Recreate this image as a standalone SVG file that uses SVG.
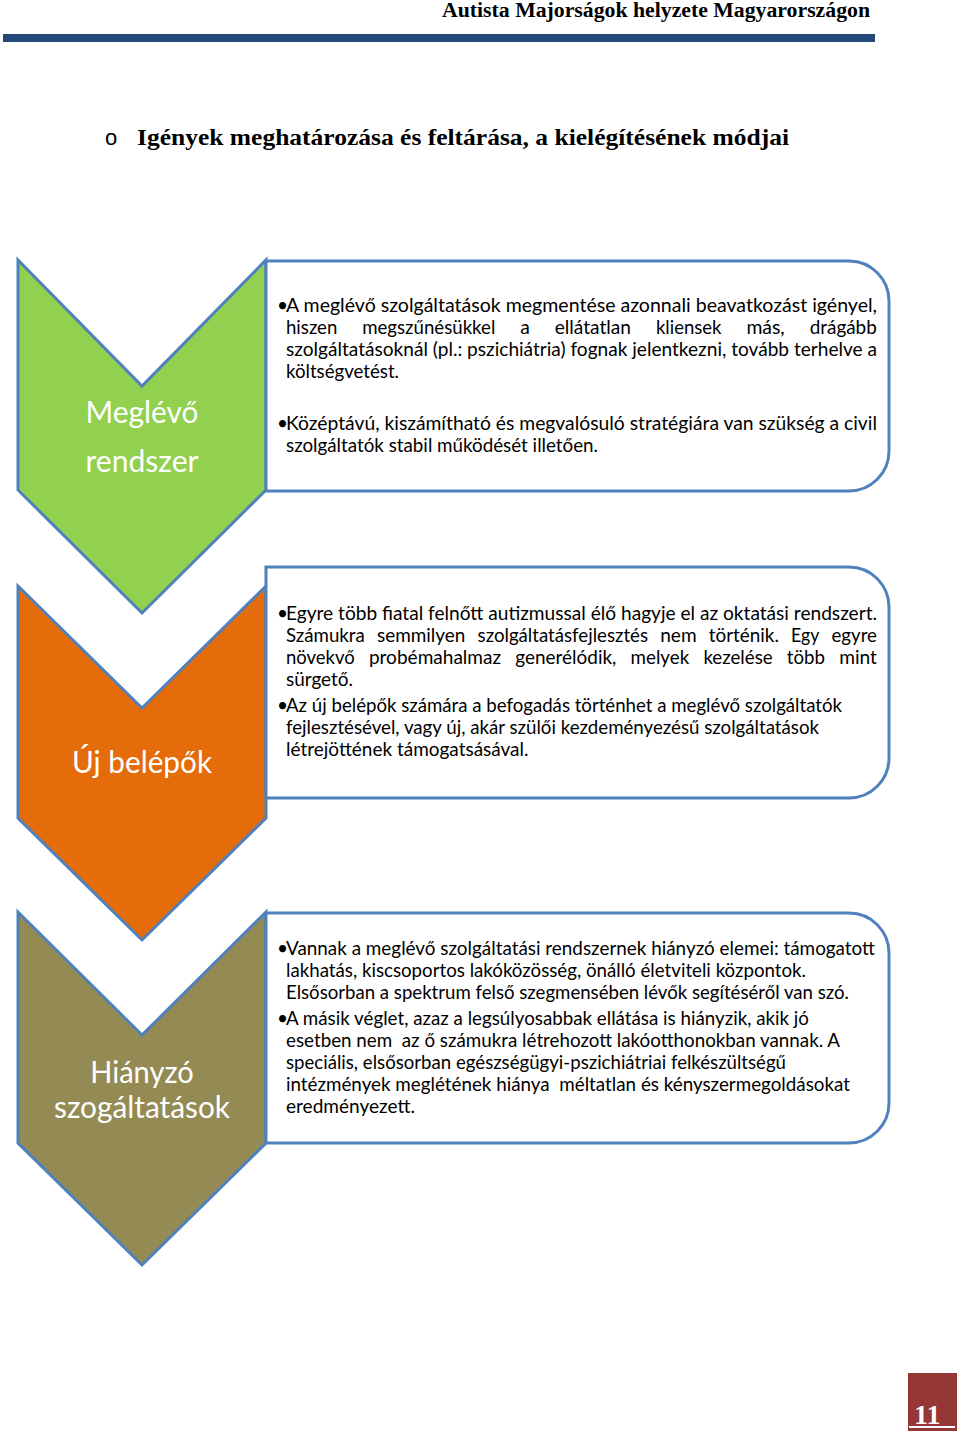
<svg xmlns="http://www.w3.org/2000/svg" width="960" height="1436" viewBox="0 0 960 1436">
<style>
.hdr{font-family:"Liberation Serif",serif;font-weight:bold;fill:#000}
.t{font-family:Lato,"Liberation Sans",sans-serif;font-size:19px;fill:#000;white-space:pre}
.lbl{font-family:Lato,"Liberation Sans",sans-serif;font-size:30px;fill:#fff;text-anchor:middle}
.chev{stroke:#4f81bd;stroke-width:3;stroke-linejoin:miter}
.box{fill:#fff;stroke:#4f81bd;stroke-width:3}
</style>
<rect width="960" height="1436" fill="#fff"/>
<g id="header">
<text class="hdr" x="442" y="17" font-size="20" textLength="428" lengthAdjust="spacingAndGlyphs">Autista Majorságok helyzete Magyarországon</text>
<rect x="3" y="34" width="872" height="8" fill="#23487a"/>
</g>
<g id="title">
<text x="105" y="145" font-family="Liberation Sans, sans-serif" font-size="22" fill="#000">o</text>
<text class="hdr" x="137" y="145" font-size="24" textLength="652" lengthAdjust="spacingAndGlyphs">Igények meghatározása és feltárása, a kielégítésének módjai</text>
</g>
<g id="connectors"></g>
<g id="node-meglevo">
<polygon class="chev" fill="#92d050" points="18,260 142,386 266,260 266,490 142,613 18,490"/>
<text class="lbl" x="142" y="423" textLength="113" lengthAdjust="spacingAndGlyphs">Meglévő</text>
<text class="lbl" x="142" y="472" textLength="113" lengthAdjust="spacingAndGlyphs">rendszer</text>
</g>
<g id="box-meglevo">
<path class="box" d="M266,261 H849 A40,40 0 0 1 889,301 V451 A40,40 0 0 1 849,491 H266 Z"/>
<text class="t" x="277" y="312">•</text>
<text class="t" x="286" y="312" textLength="591" lengthAdjust="spacingAndGlyphs">A meglévő szolgáltatások megmentése azonnali beavatkozást igényel,</text>
<text class="t" x="286" y="334" textLength="51.3" lengthAdjust="spacingAndGlyphs">hiszen</text>
<text class="t" x="362.2" y="334" textLength="133.1" lengthAdjust="spacingAndGlyphs">megszűnésükkel</text>
<text class="t" x="520.2" y="334" textLength="9.6" lengthAdjust="spacingAndGlyphs">a</text>
<text class="t" x="554.7" y="334" textLength="76.3" lengthAdjust="spacingAndGlyphs">ellátatlan</text>
<text class="t" x="655.9" y="334" textLength="65.6" lengthAdjust="spacingAndGlyphs">kliensek</text>
<text class="t" x="746.4" y="334" textLength="38.4" lengthAdjust="spacingAndGlyphs">más,</text>
<text class="t" x="809.7" y="334" textLength="67.1" lengthAdjust="spacingAndGlyphs">drágább</text>
<text class="t" x="286" y="356" textLength="591" lengthAdjust="spacingAndGlyphs">szolgáltatásoknál (pl.: pszichiátria) fognak jelentkezni, tovább terhelve a</text>
<text class="t" x="286" y="378" textLength="113" lengthAdjust="spacingAndGlyphs">költségvetést.</text>
<text class="t" x="277" y="430">•</text>
<text class="t" x="286" y="430" textLength="591" lengthAdjust="spacingAndGlyphs">Középtávú, kiszámítható és megvalósuló stratégiára van szükség a civil</text>
<text class="t" x="286" y="452" textLength="312" lengthAdjust="spacingAndGlyphs">szolgáltatók stabil működését illetően.</text>
</g>
<g id="node-uj-belepok">
<polygon class="chev" fill="#e46c0a" points="18,586 142,708 266,586 266,818 142,940 18,818"/>
<text class="lbl" x="142" y="773" textLength="140" lengthAdjust="spacingAndGlyphs">Új belépők</text>
</g>
<g id="box-uj-belepok">
<path class="box" d="M266,567 H849 A40,40 0 0 1 889,607 V758 A40,40 0 0 1 849,798 H266 Z"/>
<text class="t" x="277" y="620">•</text>
<text class="t" x="286" y="620" textLength="591" lengthAdjust="spacingAndGlyphs">Egyre több fiatal felnőtt autizmussal élő hagyje el az oktatási rendszert.</text>
<text class="t" x="286" y="642" textLength="78.8" lengthAdjust="spacingAndGlyphs">Számukra</text>
<text class="t" x="377" y="642" textLength="88.4" lengthAdjust="spacingAndGlyphs">semmilyen</text>
<text class="t" x="477.6" y="642" textLength="170.4" lengthAdjust="spacingAndGlyphs">szolgáltatásfejlesztés</text>
<text class="t" x="660.2" y="642" textLength="36.4" lengthAdjust="spacingAndGlyphs">nem</text>
<text class="t" x="708.8" y="642" textLength="70.1" lengthAdjust="spacingAndGlyphs">történik.</text>
<text class="t" x="791.1" y="642" textLength="28.2" lengthAdjust="spacingAndGlyphs">Egy</text>
<text class="t" x="831.5" y="642" textLength="45.4" lengthAdjust="spacingAndGlyphs">egyre</text>
<text class="t" x="286" y="664" textLength="68.7" lengthAdjust="spacingAndGlyphs">növekvő</text>
<text class="t" x="368.9" y="664" textLength="132.2" lengthAdjust="spacingAndGlyphs">probémahalmaz</text>
<text class="t" x="515.3" y="664" textLength="101.1" lengthAdjust="spacingAndGlyphs">generélódik,</text>
<text class="t" x="630.6" y="664" textLength="58.6" lengthAdjust="spacingAndGlyphs">melyek</text>
<text class="t" x="703.4" y="664" textLength="69.2" lengthAdjust="spacingAndGlyphs">kezelése</text>
<text class="t" x="786.8" y="664" textLength="38.2" lengthAdjust="spacingAndGlyphs">több</text>
<text class="t" x="839.2" y="664" textLength="37.8" lengthAdjust="spacingAndGlyphs">mint</text>
<text class="t" x="286" y="686" textLength="67" lengthAdjust="spacingAndGlyphs">sürgető.</text>
<text class="t" x="277" y="712">•</text>
<text class="t" x="286" y="712" textLength="556" lengthAdjust="spacingAndGlyphs">Az új belépők számára a befogadás történhet a meglévő szolgáltatók</text>
<text class="t" x="286" y="734" textLength="533" lengthAdjust="spacingAndGlyphs">fejlesztésével, vagy új, akár szülői kezdeményezésű szolgáltatások</text>
<text class="t" x="286" y="756" textLength="242.5" lengthAdjust="spacingAndGlyphs">létrejöttének támogatsásával.</text>
</g>
<g id="node-hianyzo">
<polygon class="chev" fill="#948a54" points="18,912 142,1035 266,912 266,1143 142,1265 18,1143"/>
<text class="lbl" x="142" y="1083" textLength="103.4" lengthAdjust="spacingAndGlyphs">Hiányzó</text>
<text class="lbl" x="142" y="1118" textLength="176" lengthAdjust="spacingAndGlyphs">szogáltatások</text>
</g>
<g id="box-hianyzo">
<path class="box" d="M266,913 H849 A40,40 0 0 1 889,953 V1103 A40,40 0 0 1 849,1143 H266 Z"/>
<text class="t" x="277" y="955">•</text>
<text class="t" x="286" y="955" textLength="589" lengthAdjust="spacingAndGlyphs">Vannak a meglévő szolgáltatási rendszernek hiányzó elemei: támogatott</text>
<text class="t" x="286" y="977" textLength="520" lengthAdjust="spacingAndGlyphs">lakhatás, kiscsoportos lakóközösség, önálló életviteli központok.</text>
<text class="t" x="286" y="999" textLength="563" lengthAdjust="spacingAndGlyphs">Elsősorban a spektrum felső szegmensében lévők segítéséről van szó.</text>
<text class="t" x="277" y="1025">•</text>
<text class="t" x="286" y="1025" textLength="523" lengthAdjust="spacingAndGlyphs">A másik véglet, azaz a legsúlyosabbak ellátása is hiányzik, akik jó</text>
<text class="t" x="286" y="1047" textLength="554" lengthAdjust="spacingAndGlyphs">esetben nem  az ő számukra létrehozott lakóotthonokban vannak. A</text>
<text class="t" x="286" y="1069" textLength="500" lengthAdjust="spacingAndGlyphs">speciális, elsősorban egészségügyi-pszichiátriai felkészültségű</text>
<text class="t" x="286" y="1091" textLength="564" lengthAdjust="spacingAndGlyphs">intézmények meglétének hiánya  méltatlan és kényszermegoldásokat</text>
<text class="t" x="286" y="1113" textLength="129" lengthAdjust="spacingAndGlyphs">eredményezett.</text>
</g>
<g id="page-number">
<rect x="908" y="1373" width="49" height="58" fill="#953735"/>
<text x="914" y="1424" font-family="Liberation Serif, serif" font-weight="bold" font-size="28" fill="#fff">11</text>
<line x1="909" y1="1427" x2="955" y2="1427" stroke="#fff" stroke-width="2"/>
</g>
</svg>
